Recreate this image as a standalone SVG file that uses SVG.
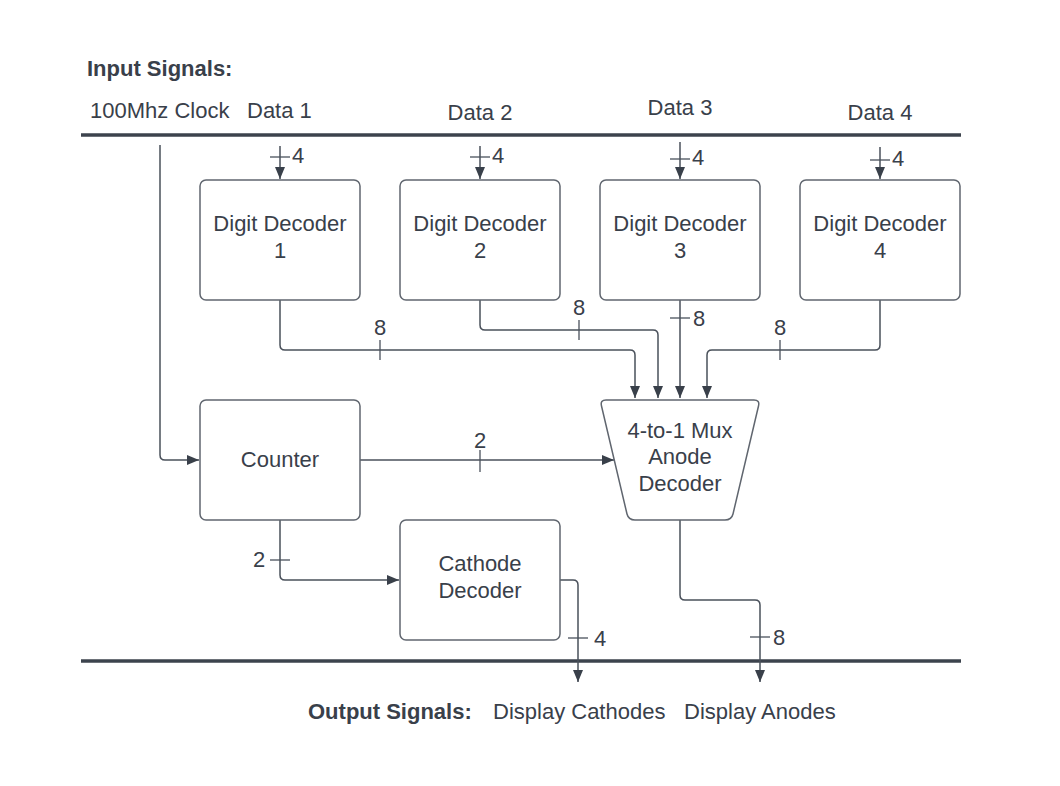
<svg xmlns="http://www.w3.org/2000/svg" width="1060" height="786" viewBox="0 0 1060 786">
<defs>
<style>
.bg{fill:#ffffff}
.box{fill:#ffffff;stroke:#60666f;stroke-width:1.5}
.t{font-family:"Liberation Sans",Arial,sans-serif;font-size:22px;fill:#39404a}
.b{font-weight:bold}
.m{text-anchor:middle}
.bus{stroke:#3c434d;stroke-width:3.5;fill:none}
.c{stroke:#4a515b;stroke-width:1.5;fill:none}
.tick{stroke:#4a515b;stroke-width:1.3}
</style>
<marker id="arr" viewBox="0 0 12 10" refX="12" refY="5" markerWidth="12" markerHeight="10" markerUnits="userSpaceOnUse" orient="auto">
<path d="M0,0 L12,5 L0,10 Z" fill="#39404a"/>
</marker>
</defs>
<rect class="bg" x="0" y="0" width="1060" height="786"/>

<g id="labels">
<text class="t b" x="87" y="76">Input Signals:</text>
<text class="t" x="90" y="118">100Mhz Clock</text>
<text class="t" x="247" y="118">Data 1</text>
<text class="t m" x="480" y="120">Data 2</text>
<text class="t m" x="680" y="115">Data 3</text>
<text class="t m" x="880" y="120">Data 4</text>
<text class="t b" x="308" y="719">Output Signals:</text>
<text class="t" x="493" y="719">Display Cathodes</text>
<text class="t" x="684" y="719">Display Anodes</text>
</g>

<g id="buses">
<line class="bus" x1="81" y1="135" x2="961" y2="135"/>
<line class="bus" x1="81" y1="661" x2="961" y2="661"/>
</g>

<g id="connectors">
<!-- data inputs -->
<line class="c" x1="280" y1="146" x2="280" y2="179" marker-end="url(#arr)"/>
<line class="tick" x1="270" y1="157" x2="290" y2="157"/>
<text class="t" x="292" y="163">4</text>
<line class="c" x1="480" y1="146" x2="480" y2="179" marker-end="url(#arr)"/>
<line class="tick" x1="470" y1="157" x2="490" y2="157"/>
<text class="t" x="492" y="163">4</text>
<line class="c" x1="680" y1="142" x2="680" y2="179" marker-end="url(#arr)"/>
<line class="tick" x1="670" y1="159" x2="690" y2="159"/>
<text class="t" x="692" y="165">4</text>
<line class="c" x1="880" y1="147" x2="880" y2="179" marker-end="url(#arr)"/>
<line class="tick" x1="870" y1="160" x2="890" y2="160"/>
<text class="t" x="892" y="166">4</text>

<!-- decoders to mux -->
<path class="c" d="M280,300 V345 Q280,350 285,350 H630 Q635,350 635,355 V398" marker-end="url(#arr)"/>
<line class="tick" x1="380" y1="340" x2="380" y2="360"/>
<text class="t m" x="380" y="335">8</text>
<path class="c" d="M480,300 V325 Q480,330 485,330 H653 Q658,330 658,335 V398" marker-end="url(#arr)"/>
<line class="tick" x1="579" y1="320" x2="579" y2="340"/>
<text class="t m" x="579" y="315">8</text>
<line class="c" x1="680" y1="300" x2="680" y2="398" marker-end="url(#arr)"/>
<line class="tick" x1="670" y1="318" x2="690" y2="318"/>
<text class="t" x="693" y="326">8</text>
<path class="c" d="M880,300 V345 Q880,350 875,350 H712 Q707,350 707,355 V398" marker-end="url(#arr)"/>
<line class="tick" x1="780" y1="340" x2="780" y2="360"/>
<text class="t m" x="780" y="335">8</text>

<!-- clock -->
<path class="c" d="M160,145 V455 Q160,460 165,460 H199" marker-end="url(#arr)"/>

<!-- counter to mux -->
<line class="c" x1="360" y1="460" x2="614" y2="460" marker-end="url(#arr)"/>
<line class="tick" x1="480" y1="450" x2="480" y2="472"/>
<text class="t m" x="480" y="448">2</text>

<!-- counter to cathode -->
<path class="c" d="M280,520 V575 Q280,580 285,580 H399" marker-end="url(#arr)"/>
<line class="tick" x1="270" y1="560" x2="290" y2="560"/>
<text class="t" x="253" y="567">2</text>

<!-- cathode output -->
<path class="c" d="M560,580 H573 Q578,580 578,585 V682" marker-end="url(#arr)"/>
<line class="tick" x1="568" y1="638" x2="588" y2="638"/>
<text class="t" x="594" y="646">4</text>

<!-- mux output -->
<path class="c" d="M680,520 V595 Q680,600 685,600 H755 Q760,600 760,605 V682" marker-end="url(#arr)"/>
<line class="tick" x1="750" y1="637" x2="770" y2="637"/>
<text class="t" x="773" y="645">8</text>
</g>

<g id="dd1">
<rect class="box" x="200" y="180" width="160" height="120" rx="6"/>
<text class="t m" x="280" y="231">Digit Decoder</text>
<text class="t m" x="280" y="258">1</text>
</g>
<g id="dd2">
<rect class="box" x="400" y="180" width="160" height="120" rx="6"/>
<text class="t m" x="480" y="231">Digit Decoder</text>
<text class="t m" x="480" y="258">2</text>
</g>
<g id="dd3">
<rect class="box" x="600" y="180" width="160" height="120" rx="6"/>
<text class="t m" x="680" y="231">Digit Decoder</text>
<text class="t m" x="680" y="258">3</text>
</g>
<g id="dd4">
<rect class="box" x="800" y="180" width="160" height="120" rx="6"/>
<text class="t m" x="880" y="231">Digit Decoder</text>
<text class="t m" x="880" y="258">4</text>
</g>
<g id="counter">
<rect class="box" x="200" y="400" width="160" height="120" rx="6"/>
<text class="t m" x="280" y="467">Counter</text>
</g>
<g id="cathode">
<rect class="box" x="400" y="520" width="160" height="120" rx="6"/>
<text class="t m" x="480" y="571">Cathode</text>
<text class="t m" x="480" y="598">Decoder</text>
</g>
<g id="mux">
<path class="box" d="M606,400 H754 Q760,400 758.5,406 L733,514 Q731.5,520 725,520 H635 Q628.5,520 627,514 L601.5,406 Q600,400 606,400 Z"/>
<text class="t m" x="680" y="438">4-to-1 Mux</text>
<text class="t m" x="680" y="464">Anode</text>
<text class="t m" x="680" y="491">Decoder</text>
</g>
</svg>
